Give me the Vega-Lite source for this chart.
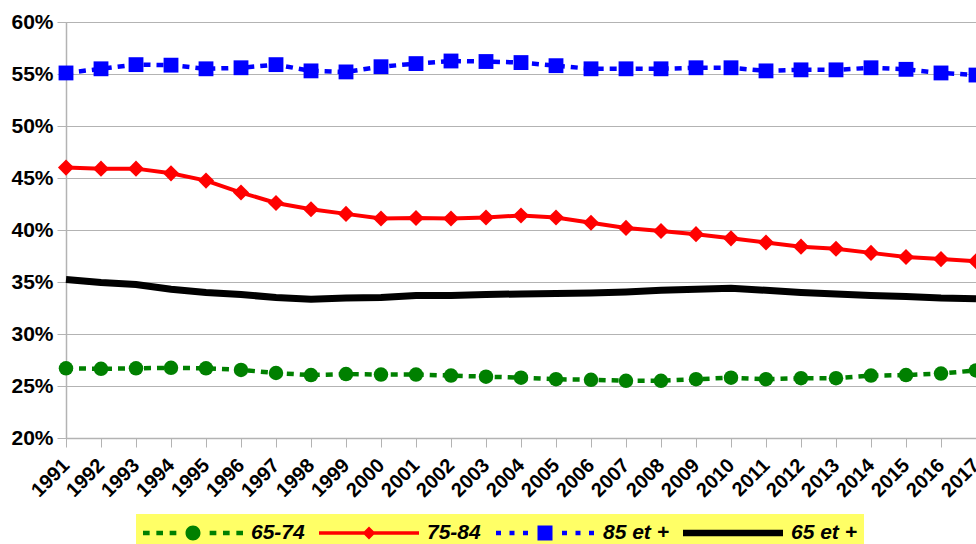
{
  "$schema": "https://vega.github.io/schema/vega-lite/v6.json",
  "width": 910,
  "height": 416,
  "autosize": {"type": "none"},
  "padding": {"left": 66, "top": 22, "right": 0, "bottom": 106},
  "background": "white",
  "config": {
    "font": "Liberation Sans",
    "view": {"stroke": "#b3b3b3", "strokeWidth": 1},
    "axis": {
      "domainColor": "#b3b3b3",
      "tickColor": "#b3b3b3",
      "gridColor": "#b3b3b3",
      "gridWidth": 1,
      "labelColor": "#000000",
      "labelFont": "Liberation Sans",
      "labelFontWeight": "bold",
      "title": null
    }
  },
  "data": {
    "values": [
      {"year": 1991, "series": "65-74", "v": 26.7},
      {"year": 1992, "series": "65-74", "v": 26.65},
      {"year": 1993, "series": "65-74", "v": 26.7},
      {"year": 1994, "series": "65-74", "v": 26.75},
      {"year": 1995, "series": "65-74", "v": 26.7},
      {"year": 1996, "series": "65-74", "v": 26.55},
      {"year": 1997, "series": "65-74", "v": 26.25},
      {"year": 1998, "series": "65-74", "v": 26.05},
      {"year": 1999, "series": "65-74", "v": 26.15},
      {"year": 2000, "series": "65-74", "v": 26.1},
      {"year": 2001, "series": "65-74", "v": 26.1},
      {"year": 2002, "series": "65-74", "v": 26.0},
      {"year": 2003, "series": "65-74", "v": 25.9},
      {"year": 2004, "series": "65-74", "v": 25.8},
      {"year": 2005, "series": "65-74", "v": 25.65},
      {"year": 2006, "series": "65-74", "v": 25.6},
      {"year": 2007, "series": "65-74", "v": 25.5},
      {"year": 2008, "series": "65-74", "v": 25.5},
      {"year": 2009, "series": "65-74", "v": 25.65},
      {"year": 2010, "series": "65-74", "v": 25.8},
      {"year": 2011, "series": "65-74", "v": 25.65},
      {"year": 2012, "series": "65-74", "v": 25.75},
      {"year": 2013, "series": "65-74", "v": 25.75},
      {"year": 2014, "series": "65-74", "v": 26.0},
      {"year": 2015, "series": "65-74", "v": 26.05},
      {"year": 2016, "series": "65-74", "v": 26.2},
      {"year": 2017, "series": "65-74", "v": 26.5},
      {"year": 1991, "series": "75-84", "v": 46.0},
      {"year": 1992, "series": "75-84", "v": 45.9},
      {"year": 1993, "series": "75-84", "v": 45.9},
      {"year": 1994, "series": "75-84", "v": 45.45},
      {"year": 1995, "series": "75-84", "v": 44.75},
      {"year": 1996, "series": "75-84", "v": 43.6},
      {"year": 1997, "series": "75-84", "v": 42.6},
      {"year": 1998, "series": "75-84", "v": 42.0},
      {"year": 1999, "series": "75-84", "v": 41.55},
      {"year": 2000, "series": "75-84", "v": 41.1},
      {"year": 2001, "series": "75-84", "v": 41.15},
      {"year": 2002, "series": "75-84", "v": 41.1},
      {"year": 2003, "series": "75-84", "v": 41.2},
      {"year": 2004, "series": "75-84", "v": 41.4},
      {"year": 2005, "series": "75-84", "v": 41.2},
      {"year": 2006, "series": "75-84", "v": 40.7},
      {"year": 2007, "series": "75-84", "v": 40.2},
      {"year": 2008, "series": "75-84", "v": 39.9},
      {"year": 2009, "series": "75-84", "v": 39.6},
      {"year": 2010, "series": "75-84", "v": 39.2},
      {"year": 2011, "series": "75-84", "v": 38.8},
      {"year": 2012, "series": "75-84", "v": 38.4},
      {"year": 2013, "series": "75-84", "v": 38.2},
      {"year": 2014, "series": "75-84", "v": 37.8},
      {"year": 2015, "series": "75-84", "v": 37.4},
      {"year": 2016, "series": "75-84", "v": 37.2},
      {"year": 2017, "series": "75-84", "v": 37.0},
      {"year": 1991, "series": "85 et +", "v": 55.1},
      {"year": 1992, "series": "85 et +", "v": 55.5},
      {"year": 1993, "series": "85 et +", "v": 55.9},
      {"year": 1994, "series": "85 et +", "v": 55.85},
      {"year": 1995, "series": "85 et +", "v": 55.5},
      {"year": 1996, "series": "85 et +", "v": 55.6},
      {"year": 1997, "series": "85 et +", "v": 55.9},
      {"year": 1998, "series": "85 et +", "v": 55.3},
      {"year": 1999, "series": "85 et +", "v": 55.2},
      {"year": 2000, "series": "85 et +", "v": 55.7},
      {"year": 2001, "series": "85 et +", "v": 56.0},
      {"year": 2002, "series": "85 et +", "v": 56.25},
      {"year": 2003, "series": "85 et +", "v": 56.2},
      {"year": 2004, "series": "85 et +", "v": 56.1},
      {"year": 2005, "series": "85 et +", "v": 55.8},
      {"year": 2006, "series": "85 et +", "v": 55.5},
      {"year": 2007, "series": "85 et +", "v": 55.5},
      {"year": 2008, "series": "85 et +", "v": 55.5},
      {"year": 2009, "series": "85 et +", "v": 55.6},
      {"year": 2010, "series": "85 et +", "v": 55.6},
      {"year": 2011, "series": "85 et +", "v": 55.3},
      {"year": 2012, "series": "85 et +", "v": 55.4},
      {"year": 2013, "series": "85 et +", "v": 55.4},
      {"year": 2014, "series": "85 et +", "v": 55.6},
      {"year": 2015, "series": "85 et +", "v": 55.45},
      {"year": 2016, "series": "85 et +", "v": 55.1},
      {"year": 2017, "series": "85 et +", "v": 54.9},
      {"year": 1991, "series": "65 et +", "v": 35.25},
      {"year": 1992, "series": "65 et +", "v": 34.95},
      {"year": 1993, "series": "65 et +", "v": 34.75},
      {"year": 1994, "series": "65 et +", "v": 34.3},
      {"year": 1995, "series": "65 et +", "v": 34.0},
      {"year": 1996, "series": "65 et +", "v": 33.8},
      {"year": 1997, "series": "65 et +", "v": 33.5},
      {"year": 1998, "series": "65 et +", "v": 33.35},
      {"year": 1999, "series": "65 et +", "v": 33.45},
      {"year": 2000, "series": "65 et +", "v": 33.5},
      {"year": 2001, "series": "65 et +", "v": 33.7},
      {"year": 2002, "series": "65 et +", "v": 33.7},
      {"year": 2003, "series": "65 et +", "v": 33.8},
      {"year": 2004, "series": "65 et +", "v": 33.85},
      {"year": 2005, "series": "65 et +", "v": 33.9},
      {"year": 2006, "series": "65 et +", "v": 33.95},
      {"year": 2007, "series": "65 et +", "v": 34.05},
      {"year": 2008, "series": "65 et +", "v": 34.2},
      {"year": 2009, "series": "65 et +", "v": 34.3},
      {"year": 2010, "series": "65 et +", "v": 34.4},
      {"year": 2011, "series": "65 et +", "v": 34.2},
      {"year": 2012, "series": "65 et +", "v": 34.0},
      {"year": 2013, "series": "65 et +", "v": 33.85},
      {"year": 2014, "series": "65 et +", "v": 33.7},
      {"year": 2015, "series": "65 et +", "v": 33.6},
      {"year": 2016, "series": "65 et +", "v": 33.45},
      {"year": 2017, "series": "65 et +", "v": 33.4}
    ]
  },
  "encoding": {
    "x": {
      "field": "year",
      "type": "quantitative",
      "scale": {"domain": [1991, 2017], "nice": false, "zero": false},
      "axis": {
        "values": [1991,1992,1993,1994,1995,1996,1997,1998,1999,2000,2001,2002,2003,2004,2005,2006,2007,2008,2009,2010,2011,2012,2013,2014,2015,2016,2017],
        "format": "d",
        "grid": false,
        "labelAngle": -45,
        "labelAlign": "right",
        "labelBaseline": "middle",
        "labelFontSize": 20,
        "labelPadding": 15,
        "tickSize": 9,
        "labelOverlap": false,
        "labelFlush": false,
        "domainWidth": 1.5
      }
    },
    "y": {
      "field": "v",
      "type": "quantitative",
      "scale": {"domain": [20, 60], "nice": false, "zero": false},
      "axis": {
        "values": [20, 25, 30, 35, 40, 45, 50, 55, 60],
        "labelExpr": "datum.value + '%'",
        "grid": true,
        "labelFontSize": 21,
        "tickSize": 9,
        "labelPadding": 4,
        "domainWidth": 1.5,
        "labelFlush": false
      }
    }
  },
  "layer": [
    {
      "transform": [{"filter": "datum.series === '65 et +'"}],
      "mark": {"type": "line", "color": "#000000", "strokeWidth": 7}
    },
    {
      "transform": [{"filter": "datum.series === '65-74'"}],
      "mark": {
        "type": "line", "color": "#008000", "strokeWidth": 4.5, "strokeDash": [7, 6],
        "point": {"filled": true, "shape": "circle", "size": 210, "opacity": 1, "color": "#008000"}
      }
    },
    {
      "transform": [{"filter": "datum.series === '75-84'"}],
      "mark": {
        "type": "line", "color": "#ff0000", "strokeWidth": 4,
        "point": {"filled": true, "shape": "diamond", "size": 260, "opacity": 1, "color": "#ff0000"}
      }
    },
    {
      "transform": [{"filter": "datum.series === '85 et +'"}],
      "mark": {
        "type": "line", "color": "#0000ff", "strokeWidth": 4.5, "strokeDash": [7, 6],
        "point": {"filled": true, "shape": "square", "size": 220, "opacity": 1, "color": "#0000ff"}
      }
    },
    {
      "mark": {"type": "point", "filled": true, "opacity": 0},
      "encoding": {
        "fill": {
          "field": "series",
          "type": "nominal",
          "scale": {
            "domain": ["65-74", "75-84", "85 et +", "65 et +"],
            "range": ["#008000", "#ff0000", "#0000ff", "#000000"]
          },
          "legend": {
            "title": null,
            "orient": "none",
            "direction": "horizontal",
            "legendX": 70,
            "legendY": 492,
            "fillColor": "#ffff66",
            "padding": 7,
            "clipHeight": 24,
            "symbolSize": 10000,
            "symbolOpacity": 1,
            "symbolStrokeWidth": 0,
            "labelFont": "Liberation Sans",
            "labelFontWeight": "bold",
            "labelFontStyle": "italic",
            "labelFontSize": 21,
            "labelColor": "#000000",
            "labelOffset": 8,
            "labelLimit": 300,
            "columnPadding": 14
          }
        },
        "shape": {
          "field": "series",
          "type": "nominal",
          "scale": {
            "domain": ["65-74", "75-84", "85 et +", "65 et +"],
            "range": [
              "M-1,-0.047H-0.867V0.047H-1Z M-0.733,-0.047H-0.6V0.047H-0.733Z M-0.467,-0.047H-0.333V0.047H-0.467Z M0.333,-0.047H0.467V0.047H0.333Z M0.6,-0.047H0.733V0.047H0.6Z M0.867,-0.047H1V0.047H0.867Z M-0.15,0A0.15,0.15 0 1,1 0.15,0A0.15,0.15 0 1,1 -0.15,0Z",
              "M-1,-0.035H1V0.035H-1Z M0,-0.13L0.13,0L0,0.13L-0.13,0Z",
              "M-0.98,-0.045H-0.88V0.045H-0.98Z M-0.71,-0.045H-0.61V0.045H-0.71Z M-0.44,-0.045H-0.34V0.045H-0.44Z M0.34,-0.045H0.44V0.045H0.34Z M0.61,-0.045H0.71V0.045H0.61Z M0.88,-0.045H0.98V0.045H0.88Z M-0.15,-0.15H0.15V0.15H-0.15Z",
              "M-1,-0.067H1V0.067H-1Z"
            ]
          },
          "legend": {
            "title": null,
            "orient": "none",
            "direction": "horizontal",
            "legendX": 70,
            "legendY": 492,
            "fillColor": "#ffff66",
            "padding": 7,
            "clipHeight": 24,
            "symbolSize": 10000,
            "symbolOpacity": 1,
            "symbolStrokeWidth": 0,
            "labelFont": "Liberation Sans",
            "labelFontWeight": "bold",
            "labelFontStyle": "italic",
            "labelFontSize": 21,
            "labelColor": "#000000",
            "labelOffset": 8,
            "labelLimit": 300,
            "columnPadding": 14
          }
        }
      }
    }
  ]
}
